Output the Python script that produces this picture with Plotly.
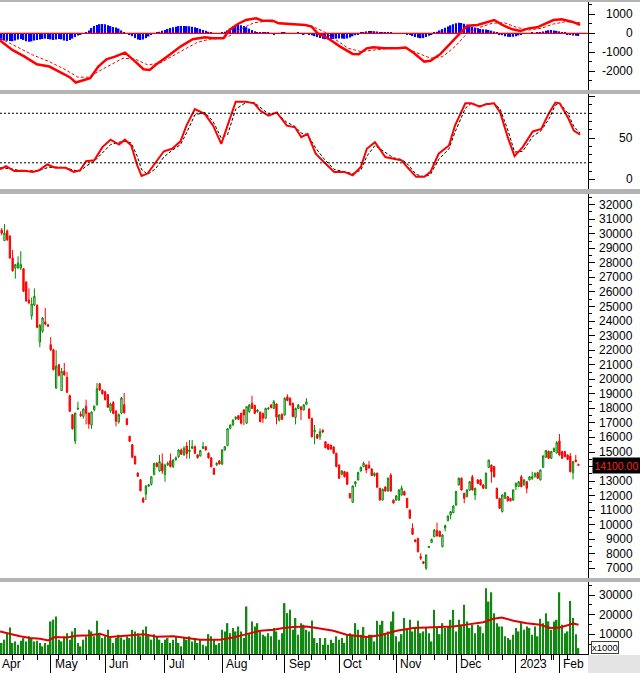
import plotly.graph_objects as go

# ================== DATA ==================
# one bar per trading day: index 0 = 2022-04-01 ... index 214 = 2023-02-10
opens = [
    30100, 30200, 30250, 29530, 30200, 29850, 28330, 27650, 27650, 27650,
    27600, 26680, 25450, 24370, 25100, 25090, 22560, 23300, 23940, 23750,
    22380, 22030, 19400, 21000, 19220, 20550, 20140, 18870, 17570, 15760,
    17950, 17600, 17450, 18150, 17680, 16850, 17900, 18250, 19700, 19250,
    19150, 18940, 17820, 18400, 17800, 17070, 17680, 18250, 17290, 16090,
    15510, 14700, 13560, 13100, 11820, 12100, 12650, 12780, 13450, 14230,
    13700, 14200, 13450, 14120, 14400, 14000, 14480, 14680, 15140, 14800,
    15410, 15030, 15260, 15370, 14800, 14730, 15250, 15370, 14920, 14600,
    13880, 14120, 14400, 14180, 15140, 15450, 16630, 16860, 17290, 17500,
    17660, 17890, 16980, 17780, 18350, 18200, 17780, 17730, 17660, 17320,
    17960, 18230, 18000, 18300, 17200, 17600, 17550, 18800, 18700, 18350,
    17380, 18000, 18100, 17900, 18280, 17960, 17320, 16400, 16200, 16050,
    16500, 15710, 15530, 15480, 15350, 14920, 14110, 13470, 13650, 13600,
    12150, 11550, 12800, 13080, 13700, 14000, 14110, 14100, 13830, 13380,
    13540, 12510, 11710, 12600, 12320, 13420, 11700, 11700, 11700, 12050,
    12280, 11820, 11020, 9760, 8960, 9070, 7810, 7460, 7010, 8440,
    8780, 9180, 9600, 9550, 8500, 9770, 10280, 10670, 10830, 11360,
    12740, 13200, 12160, 11930, 12390, 13300, 12050, 13080, 13080, 12740,
    12510, 13950, 14100, 14000, 12510, 11820, 10900, 11820, 11930, 11820,
    11700, 12620, 12620, 13300, 12740, 12960, 13080, 13190, 13310, 13580,
    13080, 13950, 14640, 15050, 14570, 15030, 14930, 15760, 15030, 15030,
    14800, 14730, 13580, 14450, 14150,
]
highs = [
    30500, 30400, 30400, 30670, 30300, 29900, 28900, 27900, 28450, 28800,
    27650, 26750, 26250, 25620, 26250, 25150, 23800, 24280, 24900, 23800,
    22900, 22100, 22000, 21050, 20780, 21120, 20500, 18950, 17600, 17700,
    18450, 17800, 18000, 18600, 17700, 17800, 18200, 19740, 19750, 19300,
    19200, 19000, 18400, 18500, 17900, 17650, 18800, 19060, 17300, 16100,
    15550, 14750, 13600, 13150, 11900, 12740, 12800, 13350, 14250, 14300,
    14800, 14900, 14200, 14350, 14900, 14500, 14700, 15200, 15250, 15400,
    15700, 15830, 15830, 15450, 14850, 15150, 15700, 15400, 14980, 14650,
    13900, 14300, 14450, 15200, 15400, 16650, 16900, 17250, 17450, 17550,
    17700, 17950, 18150, 18300, 18870, 18250, 17950, 17800, 17700, 18050,
    18100, 18300, 18580, 18350, 17600, 17650, 18750, 18970, 18750, 18400,
    18050, 18300, 18150, 18300, 18700, 18000, 17350, 16860, 16250, 16630,
    16550, 15750, 15550, 15500, 15400, 14950, 14150, 13750, 13700, 13650,
    12200, 12700, 13000, 13650, 14000, 14350, 14150, 14380, 13900, 13600,
    13600, 12550, 12500, 12650, 13250, 13540, 11750, 12050, 12450, 12700,
    12350, 11850, 11050, 10100, 9000, 9100, 8050, 7500, 7950, 8560,
    9050, 9700, 10150, 9600, 9350, 10000, 10650, 10950, 11350, 12350,
    13250, 13250, 12200, 12450, 13000, 13420, 12550, 13150, 13150, 12800,
    13600, 14460, 14150, 14050, 12550, 11850, 12100, 12250, 11980, 11850,
    12450, 12900, 13000, 13420, 13150, 13000, 13350, 13650, 13600, 13650,
    13800, 14780, 15150, 15100, 15080, 15300, 15750, 16240, 15080, 15080,
    14850, 14930, 14400, 14800, 14200,
]
lows = [
    29900, 29950, 29900, 29500, 29500, 28300, 27400, 26920, 27600, 27500,
    26000, 25350, 25150, 24100, 25050, 23520, 22200, 23200, 23700, 23600,
    21950, 20600, 19350, 20200, 19200, 20250, 19050, 17750, 16550, 15550,
    17900, 17400, 17300, 16900, 16600, 16600, 17800, 18200, 19200, 18950,
    18550, 18050, 17700, 17600, 16770, 16950, 17600, 17650, 16850, 15700,
    14600, 14150, 13300, 12300, 11500, 11700, 12600, 12700, 13400, 13950,
    13650, 13500, 12960, 14050, 13950, 13900, 14400, 14600, 14800, 14750,
    14550, 14550, 15200, 14880, 14550, 14700, 15200, 15100, 14550, 13950,
    13450, 14050, 14150, 14100, 15100, 15400, 16550, 16800, 17200, 17200,
    16900, 16850, 16950, 17700, 17950, 17600, 17700, 17050, 16990, 17300,
    17900, 18000, 17950, 16900, 17100, 17200, 17500, 18500, 18200, 17400,
    16900, 17950, 17200, 17850, 18250, 17300, 16000, 15530, 15900, 15830,
    16300, 15250, 15150, 15150, 14880, 13950, 13150, 13400, 13250, 12750,
    11800, 11500, 12600, 13050, 13650, 13950, 13550, 13850, 13350, 13300,
    12550, 11650, 11650, 12280, 12280, 12280, 11450, 11650, 11650, 12000,
    12000, 11150, 10400, 9300, 8800, 8100, 7580, 7300, 6900, 8400,
    8750, 9150, 9200, 9150, 8450, 9550, 10250, 10380, 10800, 11300,
    12700, 12350, 11480, 11900, 12350, 12350, 11700, 12800, 12700, 12450,
    12450, 13900, 12900, 13250, 11780, 11100, 10850, 11780, 11600, 11600,
    11650, 12390, 12600, 12580, 12700, 12160, 13050, 13080, 13250, 13150,
    13050, 13900, 14600, 14530, 14530, 15000, 14900, 14750, 14530, 14650,
    14450, 13600, 13120, 14300, 14050,
]
closes = [
    30200, 30050, 30050, 30050, 29600, 28330, 27460, 27880, 27990, 27880,
    26050, 25380, 25250, 25170, 25700, 23570, 23710, 24210, 23800, 23650,
    22030, 20660, 20900, 20270, 20550, 20300, 19110, 17800, 16600, 17680,
    18000, 17500, 17950, 17660, 16930, 17750, 18150, 19350, 19280, 19010,
    18600, 18080, 18300, 17650, 17110, 17570, 18710, 17700, 16880, 15740,
    14640, 14180, 13330, 12340, 11560, 12650, 12750, 13300, 14230, 14000,
    14340, 13700, 14100, 14230, 14000, 14450, 14600, 15140, 14850, 15260,
    14900, 15140, 15370, 14920, 14620, 15100, 15370, 15140, 14600, 13990,
    13470, 14230, 14180, 15140, 15370, 16600, 16860, 17200, 17400, 17250,
    16980, 17550, 18120, 18230, 18000, 17660, 17890, 17090, 17320, 18000,
    18000, 18050, 18460, 17400, 17550, 17250, 18700, 18540, 18230, 17430,
    18000, 18230, 17900, 18230, 18450, 17320, 16050, 16500, 15950, 16400,
    16380, 15300, 15190, 15210, 14920, 14000, 13200, 13700, 13300, 12780,
    11860, 12670, 12950, 13600, 13950, 14230, 13770, 13900, 13380, 13540,
    12580, 11710, 12440, 12320, 13200, 12320, 11500, 11980, 12390, 12510,
    12050, 11180, 10450, 9350, 8840, 8150, 7700, 7350, 7920, 8500,
    9000, 9640, 9230, 9200, 9300, 9940, 10600, 10900, 11290, 12280,
    13200, 12390, 11820, 12390, 12960, 12390, 12510, 12850, 12740, 12510,
    13540, 14450, 13650, 13300, 11820, 11130, 12050, 12200, 11650, 11650,
    12390, 12850, 12960, 12620, 13080, 12510, 13300, 13300, 13540, 13200,
    13770, 14730, 15100, 14570, 15030, 15260, 15650, 14800, 14570, 14680,
    14500, 13650, 14340, 14340, 14100,
]
volumes = [  # x1000 shares
    4700, 4700, 5600, 7300, 10600, 13500, 5600, 6400, 4700, 6800,
    8100, 6400, 9000, 8100, 6400, 6800, 5600, 3900, 5600, 4700,
    16600, 17500, 19100, 7300, 6400, 9000, 10600, 7300, 11500, 13200,
    5600, 3900, 7300, 9000, 12300, 11500, 9000, 16900, 10600, 8100,
    9000, 12300, 8100, 5600, 8100, 9800, 8400, 7300, 9000, 8100,
    12300, 11500, 10600, 9000, 12300, 14000, 9800, 7300, 10100, 9000,
    7300, 5600, 7300, 8100, 5600, 7300, 9000, 5600, 3900, 8100,
    7300, 9000, 6400, 8100, 5600, 7300, 4700, 3900, 10100, 9000,
    7300, 4700, 5600, 12300, 11500, 15700, 10600, 13200, 11500, 14000,
    11500, 8100, 24200, 10600, 16600, 14000, 15700, 11500, 9800, 9000,
    10600, 9000, 13200, 11500, 7300, 10600, 25900, 20800, 22500, 12300,
    18300, 9800, 15700, 14900, 12300, 11500, 17100, 8100, 5600, 8100,
    4700, 8100, 4700, 7300, 5600, 9000, 7300, 8100, 5600, 9800,
    10600, 9800, 15700, 12300, 9800, 13700, 9000, 9800, 9800, 6400,
    16900, 14900, 16900, 10600, 11500, 16600, 21600, 9000, 6400, 10100,
    18300, 12300, 17400, 11500, 13200, 16900, 10600, 11500, 13500, 10600,
    6400, 22500, 13200, 10100, 15700, 13200, 14000, 17400, 22500, 11500,
    17400, 14900, 25000, 16600, 13200, 14900, 10600, 14900, 14000, 10600,
    33500, 26700, 31400, 20800, 15700, 14000, 14000, 9000, 8100, 7300,
    9800, 13200, 11500, 15700, 12300, 14000, 13200, 9800, 14000, 9000,
    17900, 15700, 20800, 16600, 12300, 16600, 17400, 31400, 14900, 10600,
    11500, 27000, 18300, 10100, 3000,
]
macd_hist = [
    -350, -360, -370, -380, -390, -400, -420, -380, -330, -300,
    -350, -420, -440, -430, -380, -350, -330, -300, -280, -300,
    -320, -350, -330, -300, -320, -380, -400, -350, -280, -200,
    -120, -60, -20, 50, 150, 280, 380, 440, 480, 490,
    470, 430, 380, 330, 300, 250, 150, 60, 0, -60,
    -150, -250, -320, -350, -330, -260, -170, -80, -20, 30,
    80, 130, 180, 230, 280, 320, 350, 380, 390, 390,
    380, 370, 350, 320, 280, 230, 180, 130, 80, 40,
    10, -10, 0, 30, 80, 150, 250, 350, 420, 440,
    420, 380, 320, 250, 180, 110, 60, 30, 20, 40,
    30, -20, -40, -30, 10, 40, 30, -10, -30, -20,
    10, 20, -10, -40, -30, -60, -100, -150, -200, -250,
    -290, -310, -320, -320, -300, -280, -270, -280, -290, -270,
    -220, -160, -100, -40, 20, 60, 100, 120, 120, 110,
    90, 60, 50, 40, 30, 20, 10, 0, -10, -20,
    -30, -50, -90, -140, -190, -230, -260, -250, -200, -130,
    -50, 30, 80, 150, 220, 290, 360, 420, 480, 530,
    560, 540, 500, 450, 400, 350, 300, 260, 230, 210,
    200, 180, 140, 90, 30, -40, -100, -150, -180, -190,
    -180, -150, -110, -70, -30, 0, 10, 20, 10, 30,
    60, 100, 140, 160, 170, 150, 130, 100, 70, 30,
    -40, -90, -120, -130, -140,
]

macd_x = [1.4, 5.9, 10.4, 14.9, 19.5, 24, 27, 29.2, 31.5, 34.5, 37.5, 40.5, 43.6,
          47.3, 51.1, 54.1, 56.4, 58.6, 63.1, 67.7, 72.2, 76.7, 79.7, 83.5, 85.7,
          88.8, 91.8, 95.5, 97.8, 101.6, 103.8, 106.8, 109.8, 113.6, 115.9, 118.1,
          121.9, 126.4, 131, 133.2, 136.2, 138.5, 143, 147.5, 150.5, 153.6, 157.3,
          159.6, 163.3, 167.1, 170.9, 173.1, 176.9, 179.9, 183, 186, 189.7, 192.7,
          195.7, 198.8, 201.8, 204.8, 207.8, 211.6, 214.6]
macd_line = [-385, -875, -1225, -1630, -1750, -2100, -2310, -2590, -2500, -2360,
             -1750, -1365, -1225, -1015, -1490, -1890, -1925, -1660, -1190, -700,
             -315, -210, -260, -260, 175, 490, 700, 790, 665, 665, 525, 490, 475,
             440, 350, 0, -260, -700, -1085, -1100, -790, -735, -790, -790, -750,
             -1050, -1490, -1450, -1085, -525, 90, 400, 440, 560, 700, 440, 210,
             120, 260, 315, 525, 700, 735, 610, 440]
signal_x = [1.4, 7.4, 13.4, 19.5, 25.5, 30, 33.8, 37.5, 42, 46.6, 51.1, 55.6, 60.1,
            64.6, 69.2, 73.7, 78.2, 82.7, 85.7, 90.3, 94.8, 99.3, 103.8, 109.8,
            115.9, 120.4, 124.9, 129.4, 134, 138.5, 144.5, 150.5, 155.1, 159.6,
            164.1, 168.6, 173.1, 177.7, 182.2, 186.7, 191.2, 195.7, 200.3, 204.8,
            209.3, 214.6]
signal_line = [-260, -700, -1140, -1490, -1925, -2310, -2310, -2010, -1660, -1310,
               -1365, -1660, -1575, -1190, -840, -490, -315, -260, -140, 260, 560,
               630, 560, 490, 385, 90, -350, -790, -960, -875, -790, -790, -1050,
               -1310, -1225, -700, 0, 315, 525, 560, 315, 175, 260, 490, 610, 560]

stoch_x = [1.4, 3.6, 6.6, 10.4, 13.4, 15.7, 18.7, 21.7, 25.5, 28.5, 30.8, 33, 36, 39,
           42, 45.1, 47.3, 49.6, 51.8, 53.4, 55.6, 58.6, 61.6, 64.6, 67.7, 69.9, 73,
           76.7, 79.7, 82.7, 85, 88, 91.8, 94.8, 97.1, 100.1, 103.1, 106.8, 109.8,
           112.1, 114.4, 117.4, 120.4, 124.2, 128, 131, 134, 136.2, 139.2, 143, 146,
           149, 151.3, 154.3, 157.3, 159.6, 162.6, 166.4, 168.6, 172.4, 174.6, 177.7,
           179.9, 183, 185.2, 188.2, 190.5, 193.5, 197.2, 200.3, 203.3, 205.5, 207.1,
           210.1, 212.3, 214.6]
stoch_k = [12, 16, 10, 10.5, 9, 11, 18, 14, 14, 9, 11, 22, 23, 39, 48, 42, 48, 41, 17,
           4, 7, 21, 34, 37, 46, 65, 85, 79, 65, 43, 65, 94, 94, 92, 83, 77, 81, 65,
           63, 51, 55, 31, 21, 9, 9, 5, 15, 37, 45, 27, 25, 23, 14, 3, 3, 9, 31, 41,
           65, 92, 92, 88, 91, 92, 81, 49, 28, 39, 58, 61, 81, 93, 92, 75, 59, 54]
stochd_x = [1.4, 5, 8, 12, 15, 18.7, 21.7, 25.5, 28.5, 30.8, 33, 36, 39, 42, 45.1,
            47.3, 49.6, 51.8, 53.4, 55.6, 58.6, 61.6, 64.6, 67.7, 69.9, 73, 76.7,
            79.7, 82.7, 85, 88, 91.8, 94.8, 97.1, 100.1, 103.1, 106.8, 109.8, 112.1,
            114.4, 117.4, 120.4, 124.2, 128, 131, 134, 136.2, 139.2, 143, 146, 149,
            151.3, 154.3, 157.3, 159.6, 162.6, 166.4, 168.6, 172.4, 174.6, 177.7,
            179.9, 183, 185.2, 188.2, 190.5, 193.5, 197.2, 200.3, 203.3, 205.5, 207.1,
            210.1, 212.3, 214.6]
stoch_d = [14, 13, 11, 10, 10, 14, 15, 14, 11, 10, 16, 22, 32, 42, 45, 46, 44, 28, 12,
           6, 13, 27, 35, 42, 56, 78, 81, 70, 50, 54, 85, 93, 93, 87, 79, 80, 69, 64,
           56, 54, 38, 25, 12, 9, 7, 11, 28, 41, 33, 26, 24, 18, 6, 3, 6, 24, 37, 57,
           86, 92, 89, 90, 92, 85, 58, 33, 34, 52, 59, 74, 90, 92, 80, 64, 56]

volma_x = [1.4, 5, 8.7, 12.4, 16.1, 19.1, 21.6, 25.9, 29.5, 34.5, 38.1, 41.8, 47.9,
           54.1, 59, 65.1, 70, 74.9, 82.2, 87.1, 92, 97, 101.9, 105.5, 109.2, 114.1,
           117.8, 123.9, 128.8, 136.2, 141.1, 147.2, 153.3, 160.7, 168, 174.1, 179,
           182.7, 185.8, 190.1, 195, 199.9, 203.6, 207.2, 210.3, 212.1, 214]
vol_ma = [11500, 10100, 9000, 8100, 7800, 6900, 8600, 8400, 9300, 9500, 10300, 8600,
          9500, 10100, 8800, 9000, 8100, 7300, 7300, 8400, 10100, 11800, 12300, 13200,
          13700, 14000, 13200, 11800, 9800, 8600, 9500, 11800, 13200, 13700, 14000,
          15200, 16200, 17900, 18600, 16900, 15700, 14900, 13200, 13500, 14900, 15500,
          14900]

# axis ticks / labels
month_pos = [0, 20, 40, 62, 83, 106, 126, 147, 169, 191, 207]
month_labels = ['Apr', 'May', 'Jun', 'Jul', 'Aug', 'Sep', 'Oct', 'Nov', 'Dec', '2023', 'Feb']
week_pos = [1, 6, 10, 15, 23, 28, 33, 38, 43, 48, 53, 58, 63, 68, 73, 78, 88, 93, 98,
            103, 111, 116, 121, 131, 136, 141, 146, 151, 156, 161, 166, 171, 176, 181,
            186, 195, 200, 204, 205, 210]
price_ticks = list(range(7000, 33000, 1000))
macd_ticks = [-2000, -1000, 0, 1000]
stoch_ticks = [0, 50]
stoch_levels = [20, 80]
vol_ticks = [10000, 20000, 30000]
last_price = 14100

# ================== GEOMETRY (pixels of the 640x673 page) ==================
W, H = 640, 673
PLOT_W = 588                      # right axis line sits at x = 588 px
X_RANGE = [1.36, 217.5]
RED = '#ff0000'
GREEN = '#008800'
FONT = 'Liberation Sans, Arial, sans-serif'


def px(x):
    return x / PLOT_W


def py(y):
    return 1 - y / H


idx = list(range(len(closes)))
fig = go.Figure()

# ---- MACD panel ----
fig.add_trace(go.Bar(x=idx, y=macd_hist, width=0.55, marker=dict(color='#0000ff', line=dict(width=0)),
                     yaxis='y', hoverinfo='skip'))
fig.add_trace(go.Scatter(x=signal_x, y=signal_line, mode='lines', yaxis='y',
                         line=dict(color=RED, width=1, dash='3px,2px'), hoverinfo='skip'))
fig.add_trace(go.Scatter(x=macd_x, y=macd_line, mode='lines', yaxis='y',
                         line=dict(color=RED, width=2.5), hoverinfo='skip'))

# ---- Stochastic panel ----
fig.add_trace(go.Scatter(x=stochd_x, y=stoch_d, mode='lines', yaxis='y2',
                         line=dict(color='black', width=1, dash='3px,2px'), hoverinfo='skip'))
fig.add_trace(go.Scatter(x=stoch_x, y=stoch_k, mode='lines', yaxis='y2',
                         line=dict(color=RED, width=2), hoverinfo='skip'))

# ---- Price panel ----
fig.add_trace(go.Candlestick(
    x=idx, open=opens, high=highs, low=lows, close=closes, yaxis='y3',
    increasing=dict(line=dict(color=GREEN, width=1), fillcolor='white'),
    decreasing=dict(line=dict(color=RED, width=1), fillcolor=RED),
    whiskerwidth=0, hoverinfo='skip'))

# ---- Volume panel ----
fig.add_trace(go.Bar(x=idx, y=volumes, width=0.55, marker=dict(color='#118811', line=dict(width=0)),
                     yaxis='y4', hoverinfo='skip'))
fig.add_trace(go.Scatter(x=volma_x, y=vol_ma, mode='lines', yaxis='y4',
                         line=dict(color='#e00000', width=2), hoverinfo='skip'))


def yax(top, bottom, rng, ticks, minor):
    return dict(domain=[py(bottom), py(top)], range=rng, side='right', anchor='x',
                showline=True, linecolor='black', linewidth=1,
                ticks='outside', ticklen=6, tickcolor='black', tickvals=ticks,
                showticklabels=False, showgrid=False, zeroline=False, fixedrange=True,
                minor=dict(tickvals=minor, ticks='outside', ticklen=3, tickcolor='black'))


annotations = []


def right_labels(vals, yref):
    for v in vals:
        annotations.append(dict(x=px(635), xref='paper', y=v, yref=yref, text=str(v),
                                showarrow=False, xanchor='right', yanchor='middle',
                                font=dict(size=12, color='black', family=FONT)))


right_labels(macd_ticks, 'y')
right_labels(stoch_ticks, 'y2')
# the label hidden behind the last-price tag is not drawn
right_labels([p for p in price_ticks if abs(p - last_price) >= 500], 'y3')
right_labels(vol_ticks, 'y4')

for pos, lab in zip(month_pos, month_labels):
    annotations.append(dict(x=max(pos + 0.7, X_RANGE[0]), xref='x', y=py(664), yref='paper',
                            text=lab, showarrow=False, xanchor='left', yanchor='middle',
                            font=dict(size=12, color='black', family=FONT)))

# last price tag
annotations.append(dict(x=px(592), xref='paper', y=last_price, yref='y3',
                        text=f'{last_price:.2f}', showarrow=False, xanchor='left',
                        yanchor='middle', bgcolor='black', borderpad=1.5,
                        font=dict(size=10.5, color='#ff2020', family=FONT)))
# volume unit box
annotations.append(dict(x=px(591), xref='paper', y=py(647.5), yref='paper', text='x1000',
                        showarrow=False, xanchor='left', yanchor='middle', bgcolor='white',
                        bordercolor='#404040', borderwidth=1, borderpad=0,
                        font=dict(size=9.5, color='black', family=FONT)))

shapes = []
# panel separators
for y0, y1 in [(0, 2), (90, 94), (189, 194), (578, 582)]:
    shapes.append(dict(type='rect', xref='paper', yref='paper', x0=0, x1=px(W),
                       y0=py(y1), y1=py(y0), fillcolor='#b4b4b4', line=dict(width=0), layer='above'))
# bottom-right corner block
shapes.append(dict(type='rect', xref='paper', yref='paper', x0=1, x1=px(W), y0=0, y1=py(655),
                   fillcolor='#e4e4e4', line=dict(width=0), layer='below'))
# MACD zero line
shapes.append(dict(type='line', xref='paper', yref='y', x0=0, x1=1, y0=0, y1=0,
                   line=dict(color=RED, width=1.2)))
# stochastic 20 / 80 levels
for lv in stoch_levels:
    shapes.append(dict(type='line', xref='paper', yref='y2', x0=0, x1=1, y0=lv, y1=lv,
                       line=dict(color='black', width=1, dash='2px,2px')))

fig.update_layout(
    width=W, height=H,
    margin=dict(l=0, r=W - PLOT_W, t=0, b=0),
    paper_bgcolor='white', plot_bgcolor='white',
    showlegend=False, barmode='overlay',
    xaxis=dict(domain=[0, 1], anchor='y4', range=X_RANGE, showline=True, linecolor='black',
               linewidth=1, ticks='outside', ticklen=19, tickcolor='black', tickvals=month_pos,
               showticklabels=False, showgrid=False, zeroline=False, fixedrange=True,
               rangeslider=dict(visible=False),
               minor=dict(tickvals=week_pos, ticks='outside', ticklen=5, tickcolor='black')),
    yaxis=yax(2, 90, [-2984, 1647], macd_ticks, [-2500, -1500, -500, 500, 1500]),
    yaxis2=yax(94, 189, [-11.7, 103.3], stoch_ticks + [100], list(range(10, 100, 10))),
    yaxis3=yax(194, 578, [6343, 32735], price_ticks, [p + 500 for p in price_ticks]),
    yaxis4=yax(582, 654, [0, 36640], vol_ticks, [5000, 15000, 25000, 35000]),
    annotations=annotations,
    shapes=shapes,
    font=dict(family=FONT, size=12, color='black'),
)

fig.write_html("out.html", config={'displayModeBar': False},
               post_script="document.body.style.margin='0';document.body.style.overflow='hidden';")
